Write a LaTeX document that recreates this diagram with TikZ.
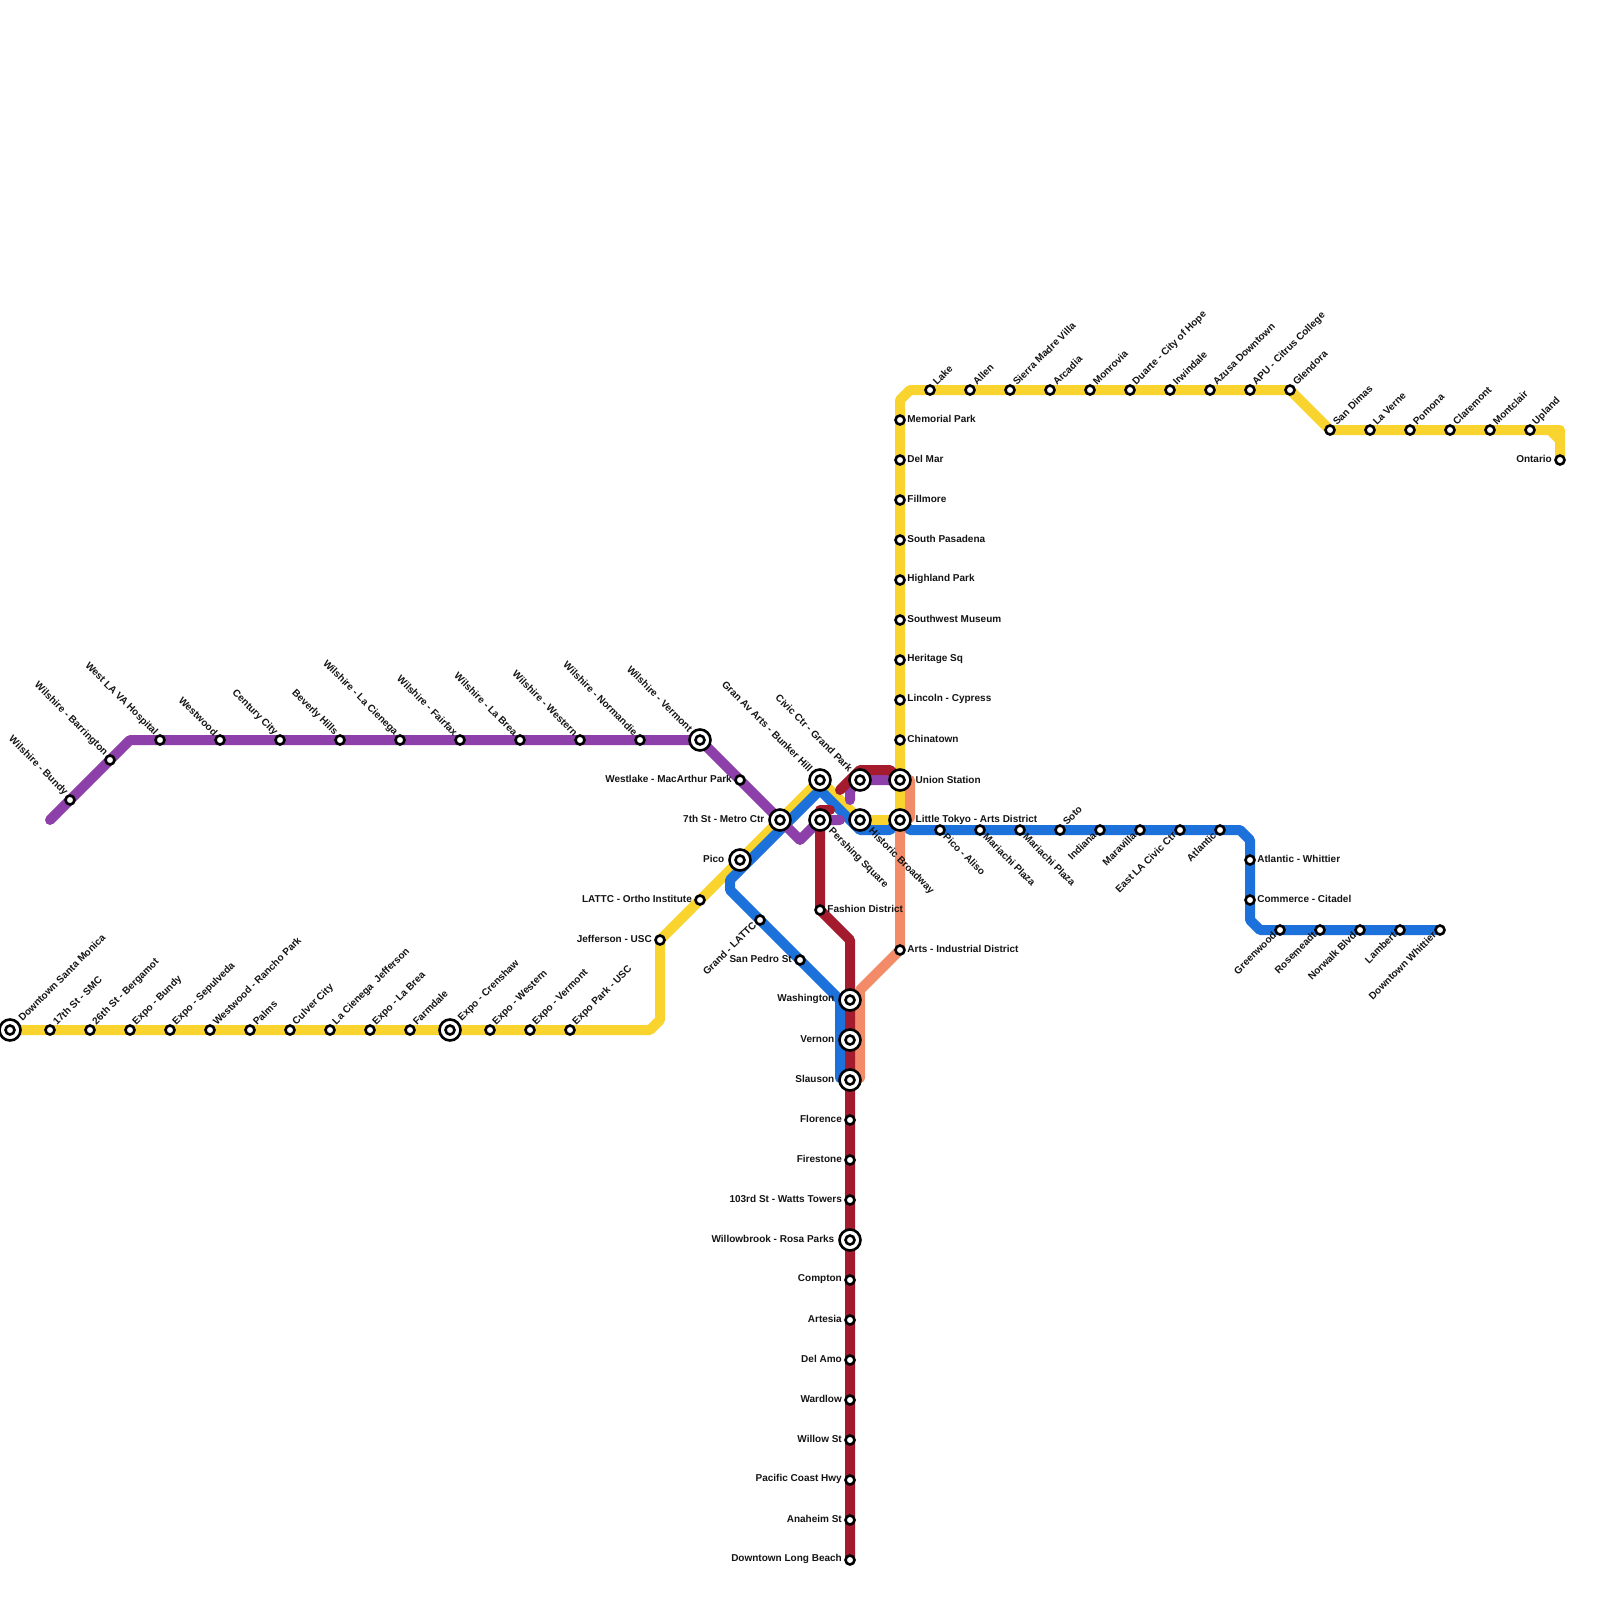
\documentclass[tikz,border=0pt]{standalone}
\usepackage{fontspec}
\setmainfont{Liberation Sans}
\pgfdeclarelayer{lines}
\pgfsetlayers{lines,main}
\definecolor{cY}{RGB}{249,212,46}
\definecolor{cB}{RGB}{29,113,219}
\definecolor{cP}{RGB}{142,64,170}
\definecolor{cR}{RGB}{163,27,45}
\definecolor{cS}{RGB}{243,139,105}
\tikzset{
  route/.style={line width=10pt,line cap=round,line join=round},
  smallst/.style={circle,draw=black,fill=white,line width=2.6pt,inner sep=0pt,outer sep=0pt,minimum size=9pt},
  bigst/.style={circle,draw=black,fill=white,line width=2.6pt,inner sep=0pt,outer sep=0pt,minimum size=21pt},
  lbl/.style={inner sep=0pt,font=\bfseries\fontsize{10}{10}\selectfont,text=black!92},
  dirr/.style={anchor=west},
  dirl/.style={anchor=east},
  dirur/.style={anchor=west,rotate=45},
  dirul/.style={anchor=east,rotate=-45},
  dirdr/.style={anchor=west,rotate=-45},
  dirdl/.style={anchor=east,rotate=45},
}
% offsets of the labels
\def\offr{(7.2,-0.7)}\def\offl{(-8,-1)}\def\offur{(4.5,-6.5)}\def\offul{(-4,-6)}\def\offdr{(5,5)}\def\offdl{(-5.5,3.5)}
\def\boffr{(15.5,-0.3)}\def\boffl{(-15.5,-0.8)}\def\boffur{(10,-10.5)}\def\bofful{(-9,-10)}\def\boffdr{(10,10)}\def\boffdl{(-9,10)}
\newcommand{\st}[5]{% name x y dir text
  \node[smallst] (#1) at (#2,#3) {};
  \node[lbl,dir#4] (#1-l) at ([shift={\csname off#4\endcsname}]#1.center) {#5};
}
\newcommand{\bst}[5]{%
  \node[bigst] (#1) at (#2,#3) {};
  \node[smallst] (#1-i) at (#2,#3) {};
  \node[lbl,dir#4] (#1-l) at ([shift={\csname boff#4\endcsname}]#1.center) {#5};
}
\begin{document}
\begin{tikzpicture}[x=1pt,y=-1pt]
\path[use as bounding box] (0,0) rectangle (1600,1600);
% --- Yellow stations, west
\bst{dsm}{10}{1030}{ur}{Downtown Santa Monica}
\st{smc}{50}{1030}{ur}{17th St - SMC}
\st{berg}{90}{1030}{ur}{26th St - Bergamot}
\st{ebundy}{130}{1030}{ur}{Expo - Bundy}
\st{esep}{170}{1030}{ur}{Expo - Sepulveda}
\st{wrp}{210}{1030}{ur}{Westwood - Rancho Park}
\st{palms}{250}{1030}{ur}{Palms}
\st{culver}{290}{1030}{ur}{Culver City}
\st{lcj}{330}{1030}{ur}{La Cienega\ \ Jefferson}
\st{elb}{370}{1030}{ur}{Expo - La Brea}
\st{farm}{410}{1030}{ur}{Farmdale}
\bst{crens}{450}{1030}{ur}{Expo - Crenshaw}
\st{ewest}{490}{1030}{ur}{Expo - Western}
\st{everm}{530}{1030}{ur}{Expo - Vermont}
\st{epark}{570}{1030}{ur}{Expo Park - USC}
\st{jeff}{660}{940}{l}{Jefferson - USC}
\st{ortho}{700}{900}{l}{LATTC - Ortho Institute}
\bst{pico}{740}{860}{l}{Pico}
\bst{metro}{780}{820}{l}{7th St - Metro Ctr}
\bst{gran}{820}{780}{ul}{Gran Av Arts - Bunker Hill}
\bst{civic}{860}{780}{ul}{Civic Ctr - Grand Park}
\bst{persh}{820}{820}{dr}{Pershing Square}
\bst{hist}{860}{820}{dr}{Historic Broadway}
\bst{union}{900}{780}{r}{Union Station}
\bst{ltokyo}{900}{820}{r}{Little Tokyo - Arts District}
% --- Yellow north
\st{china}{900}{740}{r}{Chinatown}
\st{lincoln}{900}{700}{r}{Lincoln - Cypress}
\st{heritage}{900}{660}{r}{Heritage Sq}
\st{swm}{900}{620}{r}{Southwest Museum}
\st{highland}{900}{580}{r}{Highland Park}
\st{spas}{900}{540}{r}{South Pasadena}
\st{fillmore}{900}{500}{r}{Fillmore}
\st{delmar}{900}{460}{r}{Del Mar}
\st{memorial}{900}{420}{r}{Memorial Park}
\st{lake}{930}{390}{ur}{Lake}
\st{allen}{970}{390}{ur}{Allen}
\st{sierra}{1010}{390}{ur}{Sierra Madre Villa}
\st{arcadia}{1050}{390}{ur}{Arcadia}
\st{monrovia}{1090}{390}{ur}{Monrovia}
\st{duarte}{1130}{390}{ur}{Duarte - City of Hope}
\st{irwin}{1170}{390}{ur}{Irwindale}
\st{azusa}{1210}{390}{ur}{Azusa Downtown}
\st{apu}{1250}{390}{ur}{APU - Citrus College}
\st{glendora}{1290}{390}{ur}{Glendora}
\st{dimas}{1330}{430}{ur}{San Dimas}
\st{verne}{1370}{430}{ur}{La Verne}
\st{pomona}{1410}{430}{ur}{Pomona}
\st{clare}{1450}{430}{ur}{Claremont}
\st{montc}{1490}{430}{ur}{Montclair}
\st{upland}{1530}{430}{ur}{Upland}
\st{ontario}{1560}{460}{l}{Ontario}
% --- Purple
\st{wbundy}{70}{800}{ul}{Wilshire - Bundy}
\st{wbarr}{110}{760}{ul}{Wilshire - Barrington}
\st{wla}{160}{740}{ul}{West LA VA Hospital}
\st{wwood}{220}{740}{ul}{Westwood}
\st{century}{280}{740}{ul}{Century City}
\st{beverly}{340}{740}{ul}{Beverly Hills}
\st{wlac}{400}{740}{ul}{Wilshire - La Cienega}
\st{wfair}{460}{740}{ul}{Wilshire - Fairfax}
\st{wlab}{520}{740}{ul}{Wilshire - La Brea}
\st{wwest}{580}{740}{ul}{Wilshire - Western}
\st{wnorm}{640}{740}{ul}{Wilshire - Normandie}
\bst{wverm}{700}{740}{ul}{Wilshire - Vermont}
\st{westlake}{740}{780}{l}{Westlake - MacArthur Park}
% --- Blue
\st{aliso}{940}{830}{dr}{Pico - Aliso}
\st{mar}{980}{830}{dr}{Mariachi Plaza}
\st{marb}{1020}{830}{dr}{Mariachi Plaza}
\st{soto}{1060}{830}{ur}{Soto}
\st{indiana}{1100}{830}{dl}{Indiana}
\st{marav}{1140}{830}{dl}{Maravilla}
\st{ela}{1180}{830}{dl}{East LA Civic Ctr}
\st{atl}{1220}{830}{dl}{Atlantic}
\st{atw}{1250}{860}{r}{Atlantic - Whittier}
\st{comm}{1250}{900}{r}{Commerce - Citadel}
\st{green}{1280}{930}{dl}{Greenwood}
\st{rose}{1320}{930}{dl}{Rosemeadt}
\st{norw}{1360}{930}{dl}{Norwalk Blvd}
\st{lamb}{1400}{930}{dl}{Lambert}
\st{dwh}{1440}{930}{dl}{Downtown Whittier}
\st{lattc}{760}{920}{dl}{Grand - LATTC}
\st{pedro}{800}{960}{l}{San Pedro St}
% --- Red and salmon
\st{fash}{820}{910}{r}{Fashion District}
\st{arts}{900}{950}{r}{Arts - Industrial District}
\bst{wash}{850}{1000}{l}{Washington}
\bst{vern}{850}{1040}{l}{Vernon}
\bst{slau}{850}{1080}{l}{Slauson}
\st{flor}{850}{1120}{l}{Florence}
\st{fires}{850}{1160}{l}{Firestone}
\st{watts}{850}{1200}{l}{103rd St - Watts Towers}
\bst{willow}{850}{1240}{l}{Willowbrook - Rosa Parks}
\st{compton}{850}{1280}{l}{Compton}
\st{artesia}{850}{1320}{l}{Artesia}
\st{delamo}{850}{1360}{l}{Del Amo}
\st{wardlow}{850}{1400}{l}{Wardlow}
\st{willst}{850}{1440}{l}{Willow St}
\st{pch}{850}{1480}{l}{Pacific Coast Hwy}
\st{anaheim}{850}{1520}{l}{Anaheim St}
\st{dlb}{850}{1560}{l}{Downtown Long Beach}
% --- bends
\coordinate (yA) at (650,1030);
\coordinate (yB) at (660,1020);
\coordinate (yC) at (900,400);
\coordinate (yD) at (910,390);
\coordinate (yE) at (1550,430);
\coordinate (yF) at (1560,440);
\coordinate (yG) at (1560,430);
\coordinate (pA) at (50,820);
\coordinate (pB) at (130,740);
\coordinate (pC) at (800,840);
\coordinate (pD) at (840,820);
\coordinate (pE) at (850,800);
\coordinate (pF) at (850,790);
\coordinate (bA) at (840,1078);
\coordinate (bB) at (840,1000);
\coordinate (bC) at (730,890);
\coordinate (bD) at (730,880);
\coordinate (bE) at (820,790);
\coordinate (bF) at (860,830);
\coordinate (bG) at (890,830);
\coordinate (bH) at (910,830);
\coordinate (bI) at (1240,830);
\coordinate (bJ) at (1250,840);
\coordinate (bK) at (1250,920);
\coordinate (bL) at (1260,930);
\coordinate (sA) at (910,780);
\coordinate (sB) at (910,818);
\coordinate (sC) at (860,990);
\coordinate (sD) at (860,1078);
\coordinate (rA) at (850,940);
\coordinate (rB) at (820,810);
\coordinate (rC) at (830,810);
\coordinate (rD) at (840,790);
\coordinate (rE) at (860,770);
\coordinate (rF) at (890,770);
\begin{pgfonlayer}{lines}
\draw[route,cY] (dsm.center) -- (yA) -- (yB) -- (jeff.center) -- (gran.center) -- (hist.center) -- (ltokyo.center) -- (yC) -- (yD) -- (glendora.center) -- (dimas.center) -- (yE) -- (yF) -- (ontario.center);
\draw[route,cY] (yE) -- (yG) -- (yF);
\draw[route,cB] (slau.center) -- (bA) -- (bB) -- (bC) -- (bD) -- (bE) -- (bF) -- (bG) -- (ltokyo.center) -- (bH) -- (bI) -- (bJ) -- (bK) -- (bL) -- (dwh.center);
\draw[route,cP] (pA) -- (pB) -- (wverm.center) -- (pC) -- (persh.center) -- (pD);
\draw[route,cP] (pE) -- (pF) -- (civic.center) -- (union.center);
\draw[route,cS] (union.center) -- (sA) -- (sB) -- (ltokyo.center) -- (arts.center) -- (sC) -- (sD) -- (slau.center);
\draw[route,cR] (dlb.center) -- (rA) -- (fash.center) -- (rB) -- (rC);
\draw[route,cR] (rD) -- (rE) -- (rF) -- (union.center);
\end{pgfonlayer}
\end{tikzpicture}
\end{document}
